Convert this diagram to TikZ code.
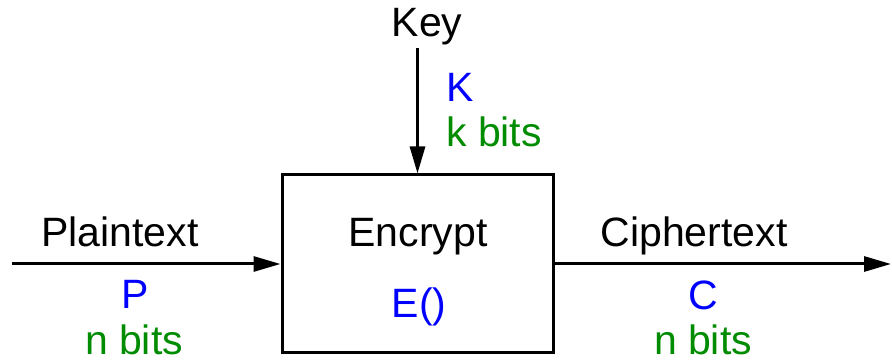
\documentclass[tikz,border=0pt]{standalone}
\usepackage{fontspec}
\setmainfont{Liberation Sans}
\usetikzlibrary{arrows.meta}
\definecolor{lblue}{RGB}{0,0,255}
\definecolor{lgreen}{RGB}{0,140,0}
\begin{document}
\begin{tikzpicture}[x=1pt,y=-1pt,
  txt/.style={inner sep=0pt,anchor=base,font=\fontsize{41}{49}\selectfont},
  ltxt/.style={txt,anchor=base west},
  conn/.style={line width=3pt,-{Triangle[length=27pt,width=15pt]}},
  encbox/.style={draw,line width=3pt,minimum width=271pt,minimum height=178pt,inner sep=0pt}]
\useasboundingbox (0,0) rectangle (892,363);
\node[encbox] (box) at (417.5,264) {};
\node[txt] (key) at (427,37) {Key};
\coordinate (keystart) at (417.5,48);
\node[ltxt,text=lblue] (K) at (446,102) {K};
\node[ltxt,text=lgreen] (kbits) at (446,147) {k bits};
\coordinate (pstart) at (12,264);
\node[txt] (plain) at (120,247) {Plaintext};
\node[txt,text=lblue] (P) at (135,309) {P};
\node[txt,text=lgreen] (pbits) at (134,355) {n bits};
\coordinate (cend) at (891,264);
\node[txt] (cipher) at (694,247) {Ciphertext};
\node[txt,text=lblue] (C) at (703,310) {C};
\node[txt,text=lgreen] (cbits) at (703,355) {n bits};
\node[txt] (enc) at (418,247) {Encrypt};
\node[txt,text=lblue] (E) at (419,318) {E()};
\draw[conn] (keystart) -- (box.north);
\draw[conn] (pstart) -- (box.west);
\draw[conn] (box.east) -- (cend);
\end{tikzpicture}
\end{document}
